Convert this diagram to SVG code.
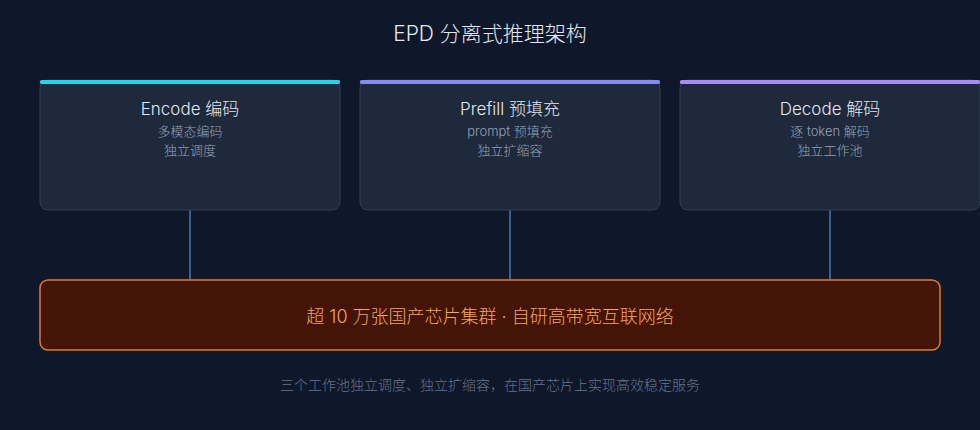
<svg xmlns="http://www.w3.org/2000/svg" width="980" height="430" viewBox="0 0 980 430">
<style>
text{font-family:"Inter","Noto Sans CJK SC",sans-serif;text-anchor:middle;font-weight:300}
.card{fill:#1e293b;stroke:#334155;stroke-width:1}
.t{font-size:17px;fill:#e2e8f0}
.s{font-size:13px;fill:#94a3b8}
.c{stroke:#3a5f94;stroke-width:2;fill:none}
</style>
<rect width="980" height="430" fill="#0f172a"/>
<text x="490" y="41" font-size="21" fill="#e2e8f0">EPD 分离式推理架构</text>
<g id="connectors">
<line class="c" x1="190" y1="210" x2="190" y2="280"/>
<line class="c" x1="510" y1="210" x2="510" y2="280"/>
<line class="c" x1="830" y1="210" x2="830" y2="280"/>
</g>
<g id="encode">
<rect class="card" x="40" y="80" width="300" height="130" rx="8"/>
<rect x="40" y="80" width="300" height="4" rx="1.5" fill="#22d3ee"/>
<text class="t" x="190" y="115">Encode 编码</text>
<text class="s" x="190" y="136">多模态编码</text>
<text class="s" x="190" y="155">独立调度</text>
</g>
<g id="prefill">
<rect class="card" x="360" y="80" width="300" height="130" rx="8"/>
<rect x="360" y="80" width="300" height="4" rx="1.5" fill="#818cf8"/>
<text class="t" x="510" y="115">Prefill 预填充</text>
<text class="s" x="510" y="136">prompt 预填充</text>
<text class="s" x="510" y="155">独立扩缩容</text>
</g>
<g id="decode">
<rect class="card" x="680" y="80" width="300" height="130" rx="8"/>
<rect x="680" y="80" width="300" height="4" rx="1.5" fill="#a78bfa"/>
<text class="t" x="830" y="115">Decode 解码</text>
<text class="s" x="830" y="136">逐 token 解码</text>
<text class="s" x="830" y="155">独立工作池</text>
</g>
<g id="cluster">
<rect x="40" y="280" width="900" height="70" rx="8" fill="#431407" stroke="#e07b2e" stroke-width="1.5"/>
<text x="490" y="323" font-size="18" fill="#f5a65b">超 10 万张国产芯片集群 · 自研高带宽互联网络</text>
</g>
<text x="490" y="390" font-size="14" fill="#64748b">三个工作池独立调度、独立扩缩容，在国产芯片上实现高效稳定服务</text>
</svg>
